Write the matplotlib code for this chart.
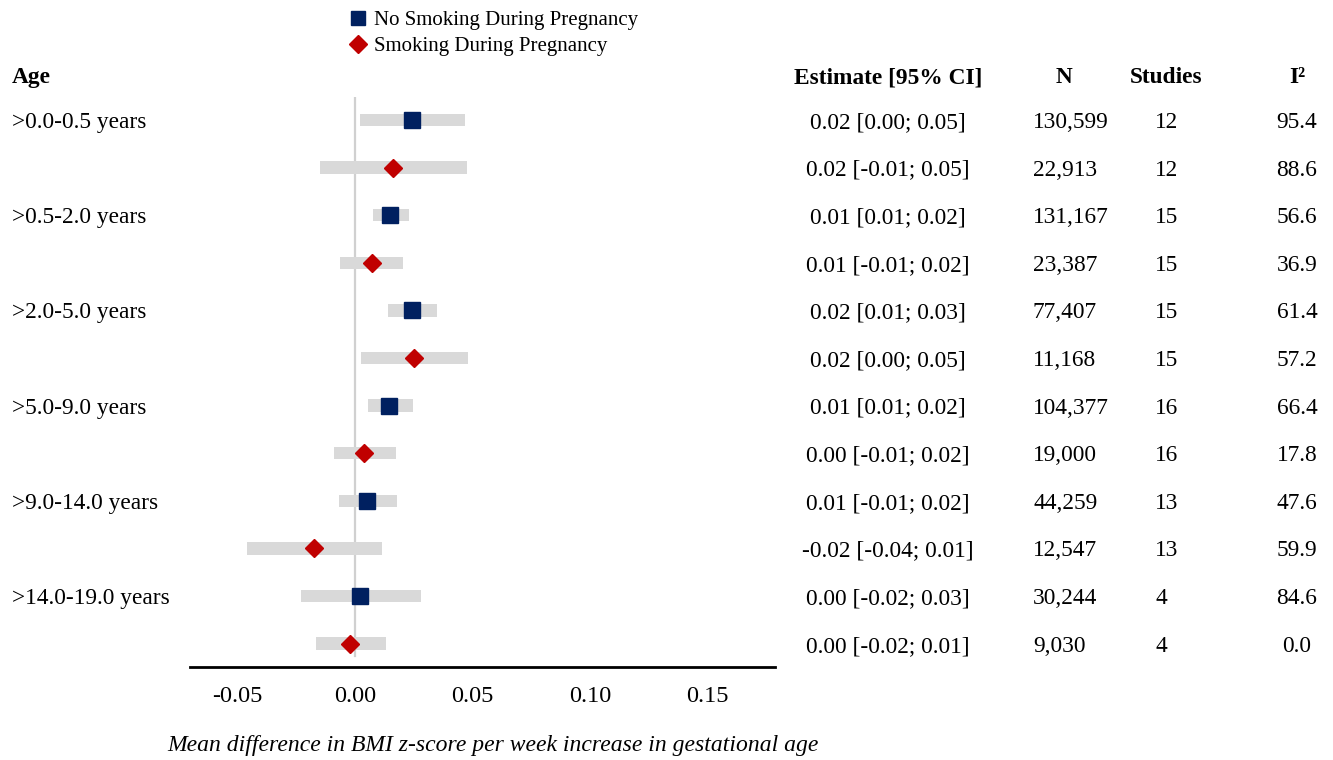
import matplotlib
matplotlib.use("Agg")
from matplotlib import pyplot as plt
from matplotlib import transforms
from matplotlib.lines import Line2D
import numpy as np

plt.rcParams['font.family'] = ['Liberation Serif', 'DejaVu Serif']

# data (rows top to bottom, alternating no-smoking / smoking)
age_labels = [">0.0-0.5 years", ">0.5-2.0 years", ">2.0-5.0 years",
              ">5.0-9.0 years", ">9.0-14.0 years", ">14.0-19.0 years"]
group = ["no", "yes"] * 6
est = [0.0241, 0.0160, 0.0149, 0.0071, 0.0241, 0.0252,
       0.0145, 0.0040, 0.0050, -0.0176, 0.0021, -0.0020]
lo = [0.0021, -0.0149, 0.0075, -0.0064, 0.0140, 0.0027,
      0.0054, -0.0091, -0.0068, -0.0460, -0.0228, -0.0164]
hi = [0.0468, 0.0478, 0.0231, 0.0203, 0.0349, 0.0482,
      0.0248, 0.0173, 0.0179, 0.0113, 0.0280, 0.0131]
est_text = ["0.02 [0.00; 0.05]", "0.02 [-0.01; 0.05]", "0.01 [0.01; 0.02]",
            "0.01 [-0.01; 0.02]", "0.02 [0.01; 0.03]", "0.02 [0.00; 0.05]",
            "0.01 [0.01; 0.02]", "0.00 [-0.01; 0.02]", "0.01 [-0.01; 0.02]",
            "-0.02 [-0.04; 0.01]", "0.00 [-0.02; 0.03]", "0.00 [-0.02; 0.01]"]
n_text = ["130,599", "22,913", "131,167", "23,387", "77,407", "11,168",
          "104,377", "19,000", "44,259", "12,547", "30,244", "9,030"]
studies = ["12", "12", "15", "15", "15", "15", "16", "16", "13", "13", "4", "4"]
i2 = ["95.4", "88.6", "56.6", "36.9", "61.4", "57.2",
      "66.4", "17.8", "47.6", "59.9", "84.6", "0.0"]
xticks = [-0.05, 0.0, 0.05, 0.10, 0.15]

navy = "#002060"
red = "#c00000"
W, H = 1333, 760

fig = plt.figure(figsize=(W / 100, H / 100), dpi=100)
ax = fig.add_axes([190 / W, 1 - 667 / H, 585 / W, (667 - 97) / H])

y = np.arange(len(est))
ax.axvline(0, ymin=0.02, ymax=1, color="#d0d0d0", lw=1.6, zorder=1)
ax.barh(y, np.array(hi) - np.array(lo), left=lo, height=0.26,
        color="#d9d9d9", zorder=2)
for yi, e, g in zip(y, est, group):
    if g == "no":
        ax.plot(e, yi, marker="s", ms=11, color=navy, zorder=3)
    else:
        ax.plot(e, yi, marker="D", ms=9, color=red, zorder=3)

ax.set_xlim(-0.0702, 0.1787)
ax.set_ylim(11.49, -0.483)
ax.set_yticks([])
ax.set_xticks(xticks)
ax.set_xticklabels([f"{t:.2f}" for t in xticks])
ax.tick_params(axis="x", length=0, pad=14, labelsize=17.5)
for s in ["top", "right", "left"]:
    ax.spines[s].set_visible(False)
ax.spines["bottom"].set_linewidth(2)

# table text
tr = transforms.blended_transform_factory(fig.transFigure, ax.transData)
fs = 16.8
hy = -0.945
ax.text(12 / W, hy, "Age", transform=tr, fontsize=fs, fontweight="bold", va="center_baseline")
ax.text(888 / W, hy, "Estimate [95% CI]", transform=tr, fontsize=fs,
        fontweight="bold", ha="center", va="center_baseline")
ax.text(1064 / W, hy, "N", transform=tr, fontsize=fs, fontweight="bold",
        ha="center", va="center_baseline")
ax.text(1166 / W, hy, "Studies", transform=tr, fontsize=fs, fontweight="bold",
        ha="center", va="center_baseline")
ax.text(1297 / W, hy, "I²", transform=tr, fontsize=fs, fontweight="bold",
        ha="center", va="center_baseline")

for k, lab in enumerate(age_labels):
    ax.text(12 / W, 2 * k, lab, transform=tr, fontsize=fs, va="center_baseline")
for yi in y:
    ax.text(888 / W, yi, est_text[yi], transform=tr, fontsize=fs, ha="center", va="center_baseline")
    ax.text(1033 / W, yi, n_text[yi], transform=tr, fontsize=fs, ha="left", va="center_baseline")
    ax.text(1155 / W, yi, studies[yi], transform=tr, fontsize=fs, ha="left", va="center_baseline")
    ax.text(1297 / W, yi, i2[yi], transform=tr, fontsize=fs, ha="center", va="center_baseline")

handles = [Line2D([], [], ls="none", marker="s", ms=10, color=navy),
           Line2D([], [], ls="none", marker="D", ms=9, color=red)]
fig.legend(handles, ["No Smoking During Pregnancy", "Smoking During Pregnancy"],
           loc="upper left", bbox_to_anchor=(335 / W, 1.0), frameon=False,
           fontsize=15, handletextpad=0.15, labelspacing=0.3, borderpad=0,
           handlelength=1.2)

fig.text(493 / W, 1 - 745 / H, "Mean difference in BMI z-score per week increase in gestational age",
         fontsize=17, style="italic", ha="center", va="center")

fig.savefig("out.png", dpi=100)
